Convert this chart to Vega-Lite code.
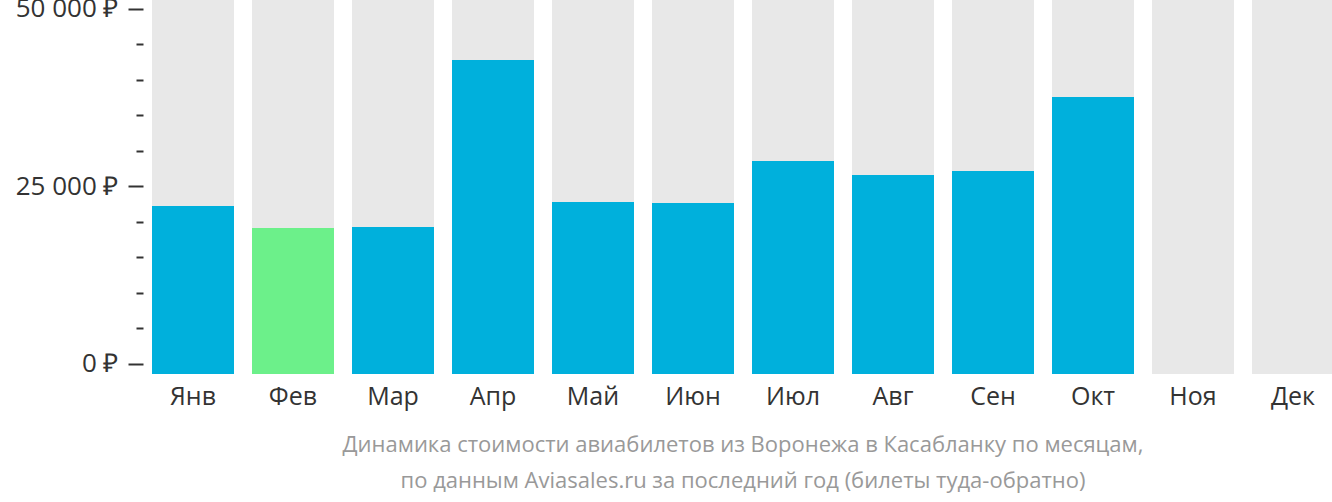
{
  "$schema": "https://vega.github.io/schema/vega-lite/v6.json",
  "autosize": "none",
  "width": 1200,
  "height": 374,
  "padding": {"left": 143, "top": 0, "right": 0, "bottom": 128},
  "config": {"view": {"stroke": null}, "font": "Open Sans"},
  "title": {
    "text": ["Динамика стоимости авиабилетов из Воронежа в Касабланку по месяцам,", "по данным Aviasales.ru за последний год (билеты туда-обратно)"],
    "orient": "bottom",
    "anchor": "middle",
    "fontSize": 22,
    "fontWeight": "normal",
    "color": "#999999",
    "lineHeight": 36,
    "offset": 26
  },
  "data": {
    "values": [
      {"month": "Янв", "price": 22230},
      {"month": "Фев", "price": 19130},
      {"month": "Мар", "price": 19270},
      {"month": "Апр", "price": 42770},
      {"month": "Май", "price": 22790},
      {"month": "Июн", "price": 22650},
      {"month": "Июл", "price": 28560},
      {"month": "Авг", "price": 26590},
      {"month": "Сен", "price": 27150},
      {"month": "Окт", "price": 37560},
      {"month": "Ноя", "price": null},
      {"month": "Дек", "price": null}
    ]
  },
  "encoding": {
    "x": {
      "field": "month",
      "type": "nominal",
      "sort": null,
      "scale": {"paddingInner": 0.18, "paddingOuter": 0.09},
      "axis": {
        "title": null,
        "domain": false,
        "ticks": false,
        "labelAngle": 0,
        "labelFontSize": 25,
        "labelColor": "#333333",
        "labelPadding": 10
      }
    }
  },
  "layer": [
    {
      "mark": {"type": "bar", "color": "#e8e8e8"},
      "encoding": {
        "y": {
          "datum": 51210,
          "type": "quantitative",
          "scale": {"domain": [-1407, 51210], "nice": false, "zero": false},
          "axis": {
            "orient": "left",
            "title": null,
            "domain": false,
            "labels": false,
            "grid": false,
            "values": [5000, 10000, 15000, 20000, 30000, 35000, 40000, 45000],
            "tickSize": 7,
            "tickWidth": 2,
            "tickColor": "#333333"
          }
        },
        "y2": {"datum": -1407}
      }
    },
    {
      "transform": [{"filter": "datum.price != null"}],
      "mark": {"type": "bar"},
      "encoding": {
        "y": {
          "field": "price",
          "type": "quantitative",
          "scale": {"domain": [-1407, 51210], "nice": false, "zero": false},
          "axis": {
            "orient": "left",
            "title": null,
            "domain": false,
            "grid": false,
            "values": [0, 25000, 50000],
            "tickSize": 15,
            "tickWidth": 2,
            "tickColor": "#333333",
            "labelFontSize": 26,
            "labelColor": "#333333",
            "labelPadding": 10,
            "labelExpr": "replace(format(datum.value, ','), ',', ' ') + ' ₽'"
          }
        },
        "y2": {"datum": -1407},
        "color": {
          "condition": {"test": "datum.month === 'Фев'", "value": "#6cf08a"},
          "value": "#00b0dc"
        }
      }
    }
  ],
  "resolve": {"scale": {"y": "independent"}}
}
